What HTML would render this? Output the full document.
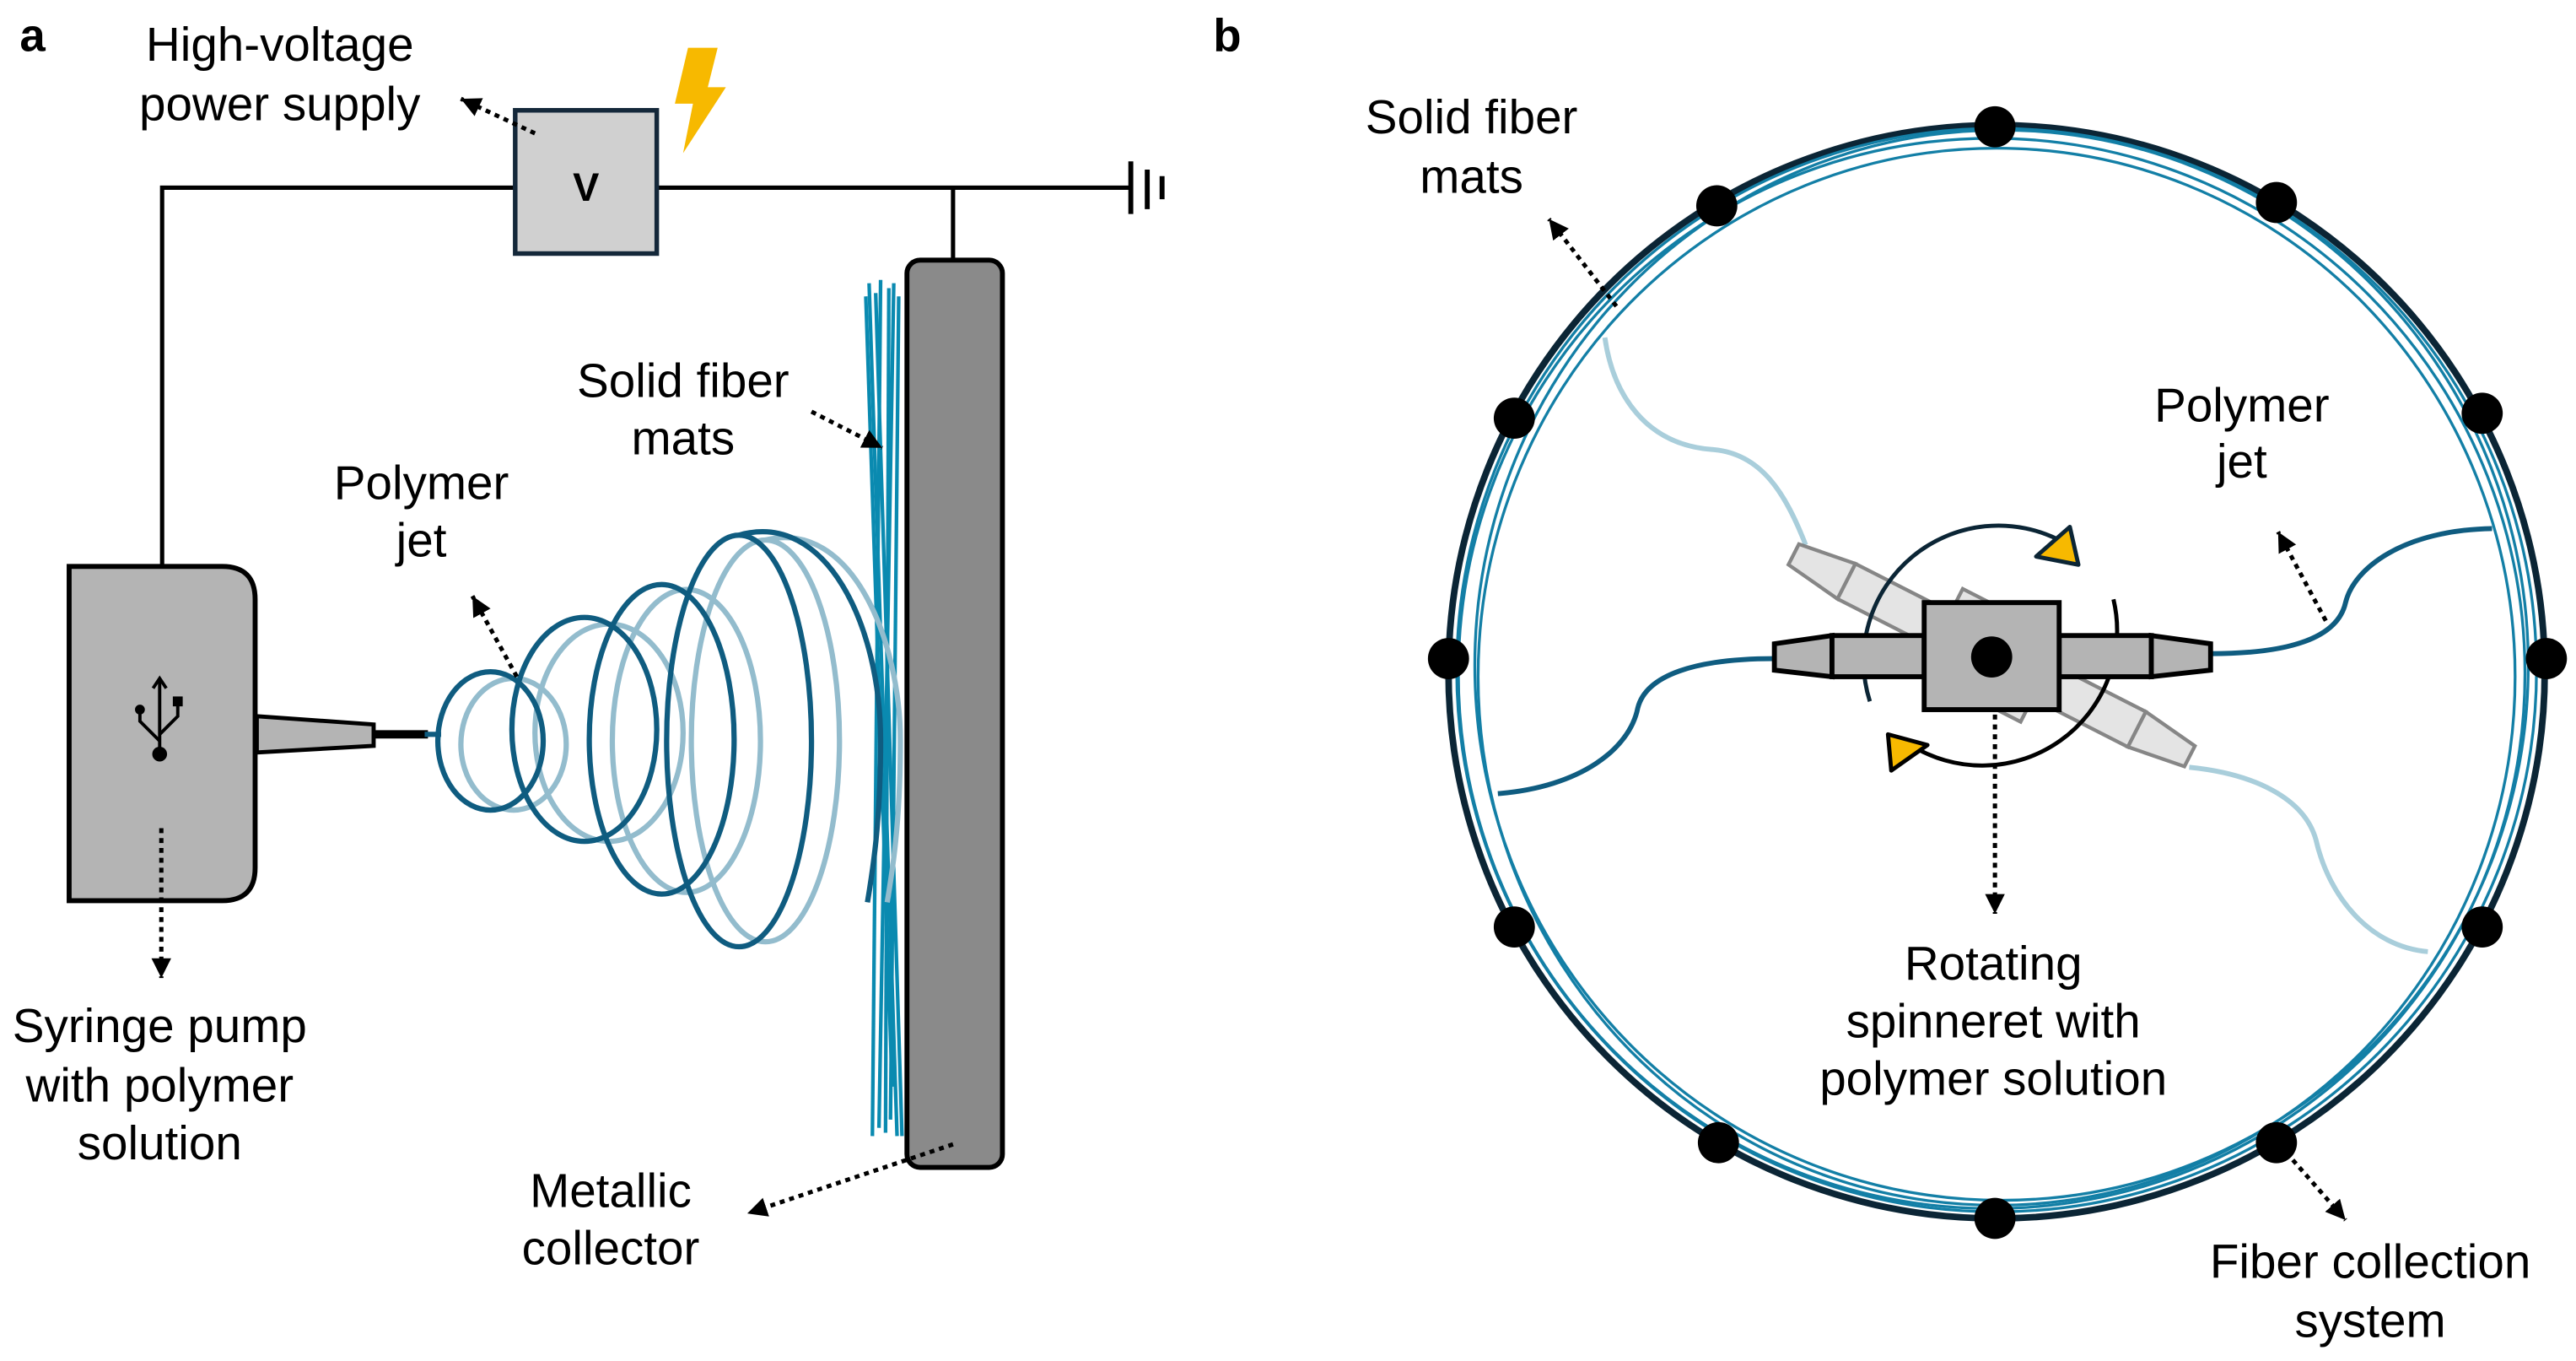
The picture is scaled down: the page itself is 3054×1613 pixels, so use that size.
<!DOCTYPE html>
<html><head><meta charset="utf-8"><style>html,body{margin:0;padding:0;background:#fff}svg{display:block}text{font-family:"Liberation Sans",Arial,sans-serif;fill:#000}</style></head>
<body>
<svg width="3054" height="1613" viewBox="0 0 1565 826.6" preserveAspectRatio="none" xmlns="http://www.w3.org/2000/svg">
<defs>
<marker id="ah" markerUnits="userSpaceOnUse" markerWidth="14" markerHeight="14" refX="12" refY="6" orient="auto"><path d="M0,0 L12,6 L0,12 Z" fill="#000"/></marker>
</defs>
<rect width="1565" height="827" fill="#fff"/>
<!-- Panel a -->
<text x="12" y="31" font-size="28" font-weight="bold">a</text>
<g stroke="#000" stroke-width="2.6" fill="none">
<path d="M98.5,345 V114 H313"/>
<path d="M399,114 H687"/>
<path d="M579,114 V158"/>
<path d="M687,98 V130 M697,103 V127 M706,107 V121" stroke-width="3"/>
</g>
<rect x="313" y="67" width="86" height="87" fill="#d0d0d0" stroke="#14283a" stroke-width="2.8"/>
<text x="356" y="122" font-size="24" font-weight="bold" text-anchor="middle">V</text>
<polygon points="418,29 436,29 430,53 441,53 415,93 421,63 410,63" fill="#f7b900"/>
<path d="M42,344 H135 Q155,344 155,364 V527 Q155,547 135,547 H42 Z" fill="#b4b4b4" stroke="#000" stroke-width="3"/>
<polygon points="156,435 227,440 227,453 156,457" fill="#b4b4b4" stroke="#000" stroke-width="2.5"/>
<line x1="227" y1="446" x2="260" y2="446" stroke="#000" stroke-width="5"/>
<g stroke="#000" stroke-width="2" fill="none">
<line x1="97" y1="412" x2="97" y2="456"/>
<path d="M93,418 L97,412 L101,418"/>
<path d="M97,450 L85,438 V432"/>
<path d="M97,446 L108,435 V428"/>
</g>
<circle cx="97" cy="458" r="4.5"/><circle cx="85" cy="431" r="3"/><rect x="105" y="423" width="6" height="6"/>
<rect x="551" y="158" width="58" height="551" rx="8" fill="#8a8a8a" stroke="#000" stroke-width="3"/>
<g stroke="#0a8ab0" stroke-width="2.2">
<line x1="528" y1="172" x2="545" y2="690"/><line x1="535" y1="170" x2="530" y2="690"/>
<line x1="540" y1="175" x2="538" y2="688"/><line x1="526" y1="180" x2="542" y2="660"/>
<line x1="543" y1="172" x2="534" y2="685"/><line x1="532" y1="178" x2="548" y2="690"/>
<line x1="546" y1="180" x2="541" y2="680"/>
</g>
<g fill="none" stroke="#93bccd" stroke-width="3.2">
<ellipse cx="312" cy="452" rx="32" ry="40"/><ellipse cx="370" cy="445" rx="45" ry="66"/>
<ellipse cx="417" cy="450" rx="45" ry="92"/><ellipse cx="465" cy="450" rx="45" ry="122"/>
<path d="M465,328 C518,315 547,390 547,450 C547,500 542,530 539,548"/>
</g>
<g fill="none" stroke="#0f5c80" stroke-width="3.2">
<path d="M258,446 L268,446"/>
<ellipse cx="298" cy="450" rx="32" ry="42"/><ellipse cx="355" cy="443" rx="44" ry="68"/>
<ellipse cx="402" cy="449" rx="44" ry="94"/><ellipse cx="449" cy="450" rx="44" ry="125"/>
<path d="M449,325 C502,310 535,380 535,450 C535,500 530,530 527,548"/>
</g>
<g stroke="#000" stroke-width="2.6" stroke-dasharray="3 3" fill="none" marker-end="url(#ah)">
<line x1="325" y1="81" x2="280" y2="60"/>
<line x1="98" y1="503" x2="98" y2="594"/>
<line x1="314" y1="411" x2="287" y2="362"/>
<line x1="493" y1="250" x2="536" y2="272"/>
<line x1="579" y1="695" x2="454" y2="737"/>
</g>
<g font-size="29" text-anchor="middle">
<text x="170" y="37">High-voltage</text><text x="170" y="73">power supply</text>
<text x="97" y="633">Syringe pump</text><text x="97" y="669">with polymer</text><text x="97" y="704">solution</text>
<text x="256" y="303">Polymer</text><text x="256" y="338">jet</text>
<text x="415" y="241">Solid fiber</text><text x="415" y="276">mats</text>
<text x="371" y="733">Metallic</text><text x="371" y="768">collector</text>
</g>
<!-- Panel b -->
<text x="737" y="31" font-size="28" font-weight="bold">b</text>
<ellipse cx="1213" cy="408" rx="333" ry="332" fill="none" stroke="#0b2535" stroke-width="4"/>
<g fill="none" stroke="#137fa6" stroke-width="1.7">
<ellipse cx="1213" cy="407" rx="328" ry="329"/>
<ellipse cx="1210" cy="409" rx="324" ry="325"/>
<ellipse cx="1216" cy="404" rx="320" ry="325"/>
<ellipse cx="1213" cy="411" rx="315" ry="321"/>
</g>
<g fill="none" stroke-width="3">
<path d="M1097,331 C1085,300 1070,275 1040,273 C1000,270 980,240 975,205" stroke="#a9cedb"/>
<path d="M1330,466 C1370,470 1400,485 1407,510 C1415,545 1440,575 1475,578" stroke="#a9cedb"/>
<path d="M1078,400 C1030,400 1000,410 995,430 C990,455 960,478 910,482" stroke="#0f5c80"/>
<path d="M1343,397 C1390,397 1420,388 1425,366 C1430,345 1460,322 1514,321" stroke="#0f5c80"/>
</g>
<g transform="rotate(27 1210 398)" fill="#e2e2e2" stroke="#7a7a7a" stroke-width="2.2" opacity="0.9">
<polygon points="1075,391 1111,386 1111,410 1075,405"/>
<rect x="1111" y="386" width="58" height="24"/>
<rect x="1251" y="386" width="58" height="24"/>
<polygon points="1309,386 1345,391 1345,405 1309,410"/>
<rect x="1176" y="370" width="68" height="56"/>
</g>
<path d="M1136,426 A82,82 0 0 1 1253,329" fill="none" stroke="#0b2535" stroke-width="2.5"/>
<polygon points="1257.5,320 1262.7,343 1237,338" fill="#f7b900" stroke="#0b2535" stroke-width="2.5" stroke-linejoin="round"/>
<path d="M1284,364 A82,82 0 0 1 1160,452" fill="none" stroke="#000" stroke-width="2.5"/>
<polygon points="1147,446 1171,452.5 1149,468" fill="#f7b900" stroke="#000" stroke-width="2.5" stroke-linejoin="round"/>
<g fill="#b4b4b4" stroke="#000" stroke-width="3">
<polygon points="1078,391 1113,386 1113,411 1078,407"/>
<rect x="1113" y="386" width="56" height="25"/>
<rect x="1251" y="386" width="56" height="25"/>
<polygon points="1307,386 1343,391 1343,407 1307,411"/>
<rect x="1169" y="366" width="82" height="65"/>
</g>
<circle cx="1210" cy="399" r="12.5" fill="#000"/>
<g fill="#000">
<circle cx="1212" cy="77" r="12.5"/><circle cx="1212" cy="740" r="12.5"/>
<circle cx="1043" cy="125" r="12.5"/><circle cx="1383" cy="123" r="12.5"/>
<circle cx="920" cy="254" r="12.5"/><circle cx="1508" cy="251" r="12.5"/>
<circle cx="880" cy="400" r="12.5"/><circle cx="1547" cy="400" r="12.5"/>
<circle cx="920" cy="563" r="12.5"/><circle cx="1508" cy="563" r="12.5"/>
<circle cx="1044" cy="694" r="12.5"/><circle cx="1383" cy="694" r="12.5"/>
</g>
<g stroke="#000" stroke-width="2.6" stroke-dasharray="3 3" fill="none" marker-end="url(#ah)">
<line x1="982" y1="186" x2="941" y2="133"/>
<line x1="1413" y1="377" x2="1384" y2="323"/>
<line x1="1212" y1="434" x2="1212" y2="555"/>
<line x1="1389" y1="700" x2="1425" y2="741"/>
</g>
<g font-size="29" text-anchor="middle">
<text x="894" y="81">Solid fiber</text><text x="894" y="117">mats</text>
<text x="1362" y="256">Polymer</text><text x="1362" y="290">jet</text>
<text x="1211" y="595">Rotating</text><text x="1211" y="630">spinneret with</text><text x="1211" y="665">polymer solution</text>
<text x="1440" y="776">Fiber collection</text><text x="1440" y="812">system</text>
</g>
</svg>
</body></html>
